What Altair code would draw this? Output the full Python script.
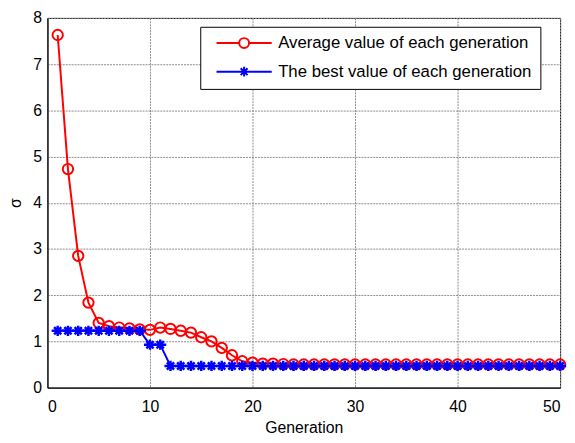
import altair as alt
import pandas as pd

generations = list(range(1, 51))
avg_values = [7.63, 4.73, 2.85, 1.84, 1.40, 1.33, 1.30, 1.28, 1.26, 1.25,
              1.30, 1.27, 1.23, 1.19, 1.09, 1.00, 0.86, 0.70, 0.57, 0.54,
              0.52, 0.52, 0.51] + [0.50] * 27
best_values = [1.23] * 9 + [0.93, 0.93] + [0.47] * 39
series_names = ["Average value of each generation", "The best value of each generation"]
series_colors = ["#ff0000", "#0000ff"]
x_ticks = [0, 10, 20, 30, 40, 50]
y_ticks = [0, 1, 2, 3, 4, 5, 6, 7, 8]

df = pd.DataFrame({
    "gen": generations * 2,
    "value": avg_values + best_values,
    "series": [series_names[0]] * 50 + [series_names[1]] * 50,
})
df_avg = df[df.series == series_names[0]]
df_best = df[df.series == series_names[1]]

FONT = "Liberation Sans"
ASTERISK = "M-1,0H1M0,-0.85V0.85M-0.6,-0.6L0.6,0.6M-0.6,0.6L0.6,-0.6"
LEG_CIRCLE = "M0,0H4.6M6.6,0H11.2M4.6,0A1,1 0 1,1 6.6,0A1,1 0 1,1 4.6,0"
LEG_STAR = "M0,0H11.2M5.6,-1V1M4.9,-0.7L6.3,0.7M4.9,0.7L6.3,-0.7"

x_enc = alt.X("gen:Q", scale=alt.Scale(domain=[0, 50], nice=False),
              axis=alt.Axis(values=x_ticks, title="Generation", format="d"))
y_enc = alt.Y("value:Q", scale=alt.Scale(domain=[0, 8], nice=False),
              axis=alt.Axis(values=y_ticks, title="σ", format="d"))
color_scale = alt.Scale(domain=series_names, range=series_colors)

red_line = alt.Chart(df_avg).mark_line(color="#ff0000", strokeWidth=2).encode(x=x_enc, y=y_enc)
red_pts = alt.Chart(df_avg).mark_point(shape="circle", filled=False, color="#ff0000",
                                       size=110, strokeWidth=2, opacity=1).encode(x=x_enc, y=y_enc)
blue_line = alt.Chart(df_best).mark_line(color="#0000ff", strokeWidth=2).encode(x=x_enc, y=y_enc)
blue_pts = alt.Chart(df_best).mark_point(shape=ASTERISK, filled=False, color="#0000ff",
                                         size=150, strokeWidth=2.5, opacity=1).encode(x=x_enc, y=y_enc)

legend_opts = dict(title=None, orient="none", legendX=155, legendY=9,
                   fillColor="white", strokeColor="black", padding=8,
                   labelFont=FONT, labelFontSize=17, labelColor="black", labelLimit=0,
                   labelOffset=54, rowPadding=10, symbolSize=100,
                   symbolStrokeWidth=2, symbolOpacity=1)

legend_layer = alt.Chart(df).mark_point(filled=False, opacity=0, strokeWidth=2, size=100).encode(
    x=x_enc, y=y_enc,
    color=alt.Color("series:N", scale=color_scale, legend=alt.Legend(**legend_opts)),
    shape=alt.Shape("series:N", scale=alt.Scale(domain=series_names, range=[LEG_CIRCLE, LEG_STAR]),
                    legend=alt.Legend(**legend_opts)),
)

chart = alt.layer(red_line, red_pts, blue_line, blue_pts, legend_layer).properties(
    width=520, height=375,
    autosize=alt.AutoSizeParams(type="none"),
    padding={"left": 40, "top": 7, "right": 7, "bottom": 45},
).configure_view(
    stroke="black", strokeWidth=1
).configure_axis(
    labelFont=FONT, labelFontSize=16, labelColor="black",
    titleFont=FONT, titleFontSize=16, titleColor="black", titleFontWeight="normal",
    domainColor="black", domainWidth=1, tickSize=0,
    grid=True, gridColor="#8a8a8a", gridWidth=1, gridDash=[2, 1],
).configure_axisX(
    labelPadding=11, titlePadding=6
).configure_axisY(
    labelPadding=6, titleX=-27, titleBaseline="alphabetic"
)

chart.save("out.html", embed_options={"renderer": "svg", "actions": False})
